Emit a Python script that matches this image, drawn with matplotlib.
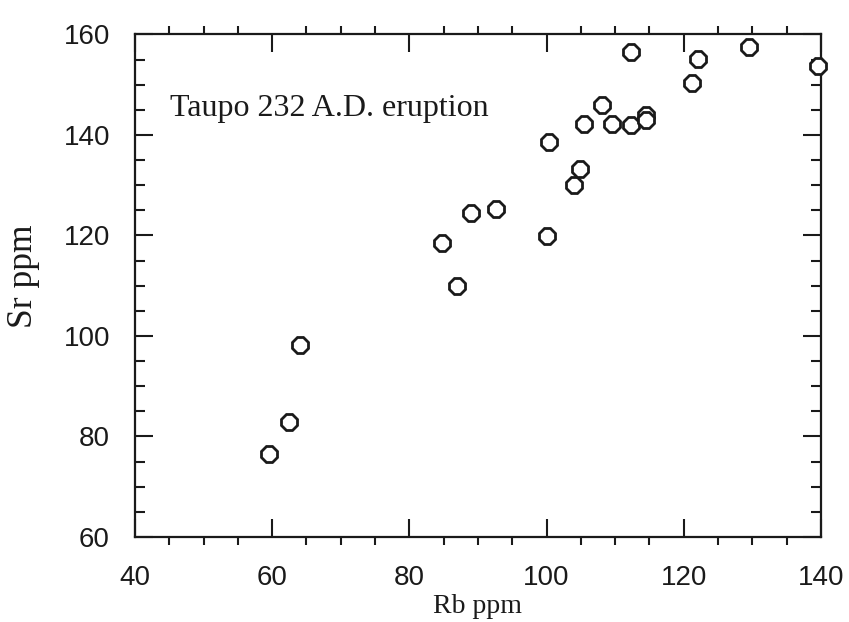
import matplotlib
matplotlib.use("Agg")
import matplotlib.pyplot as plt
from matplotlib.ticker import MultipleLocator

# Rb and Sr concentrations (ppm), Taupo 232 A.D. eruption
rb = [59.6, 62.5, 64.0, 84.8, 87.0, 89.0, 92.6, 100.0, 100.3, 104.0, 104.8,
      105.4, 108.1, 109.6, 112.3, 114.5, 114.5, 112.3, 121.2, 122.0, 129.5, 139.5]
sr = [76.5, 82.8, 98.2, 118.4, 110.0, 124.4, 125.3, 119.9, 138.6, 130.0, 133.2,
      142.1, 145.9, 142.1, 141.9, 143.9, 142.9, 156.5, 150.4, 155.1, 157.5, 153.8]

x_ticks = [40, 60, 80, 100, 120, 140]
y_ticks = [60, 80, 100, 120, 140, 160]

ink = "#1a1a1a"
serif = ["Liberation Serif", "DejaVu Serif"]
sans = ["Liberation Sans", "DejaVu Sans"]

fig = plt.figure(figsize=(8.49, 6.22), dpi=100)
ax = fig.add_axes([0.159, 0.1367, 0.808, 0.808])

ax.plot(rb, sr, linestyle="none", marker="8", markersize=12,
        markerfacecolor="white", markeredgecolor=ink, markeredgewidth=2.0,
        clip_on=False, zorder=3)

ax.set_xlim(40, 140)
ax.set_ylim(60, 160)
ax.set_xticks(x_ticks)
ax.set_yticks(y_ticks)
ax.xaxis.set_minor_locator(MultipleLocator(5))
ax.yaxis.set_minor_locator(MultipleLocator(5))

for s in ax.spines.values():
    s.set_linewidth(1.6)
    s.set_color(ink)

# x: major ticks point in, minor ticks point out; y: all in
ax.tick_params(axis="x", which="major", direction="in", length=13, width=1.5,
               top=True, bottom=True, pad=20, colors=ink)
ax.tick_params(axis="x", which="minor", direction="out", length=6, width=1.5,
               top=True, bottom=True, colors=ink)
ax.tick_params(axis="y", which="major", direction="in", length=13, width=1.5,
               left=True, right=True, pad=18, colors=ink)
ax.tick_params(axis="y", which="minor", direction="in", length=7, width=1.5,
               left=True, right=True, colors=ink)

for lab in ax.get_xticklabels() + ax.get_yticklabels():
    lab.set_family(sans)
    lab.set_fontsize(20)

ax.set_xlabel("Rb ppm", family=serif, fontsize=20, color=ink, labelpad=2)
ax.set_ylabel("Sr ppm", family=serif, fontsize=25.5, color=ink)
ax.yaxis.set_label_coords(-0.138, 0.518)

ax.text(0.051, 0.837, "Taupo 232 A.D. eruption", transform=ax.transAxes,
        family=serif, fontsize=23, color=ink, ha="left", va="baseline")

fig.savefig("out.png", dpi=100, facecolor="white")
